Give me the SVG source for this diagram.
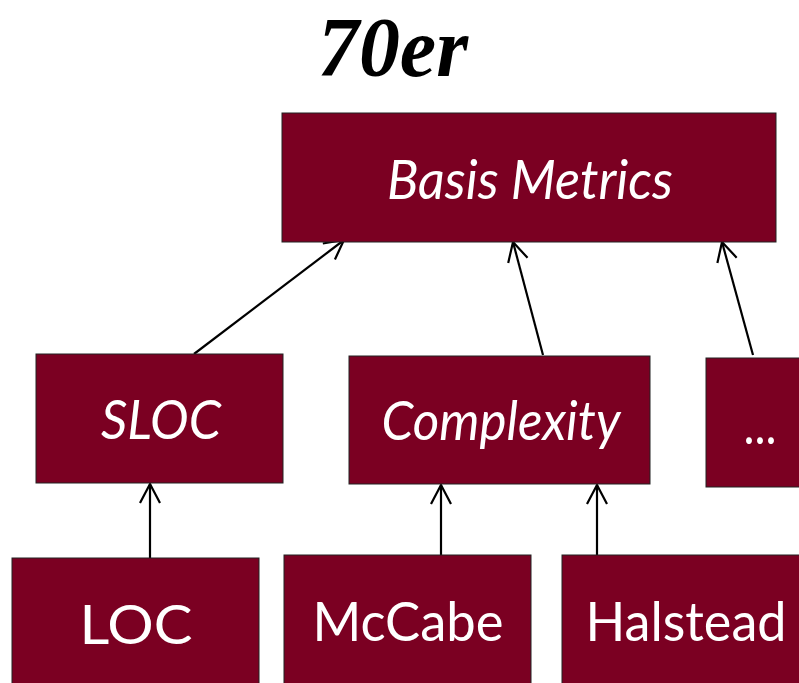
<svg xmlns="http://www.w3.org/2000/svg" width="799" height="683" viewBox="0 0 799 683">
<style>
.box{fill:#7B0022;stroke:#222;stroke-width:1}
.lbl{fill:#fff;font-family:Lato,"Open Sans","DejaVu Sans",sans-serif;text-anchor:middle}
.it{font-style:italic}
.con{stroke:#000;stroke-width:2.2;fill:none;marker-end:url(#ah)}
</style>
<defs>
<marker id="ah" markerUnits="userSpaceOnUse" viewBox="-22 -12 24 24" refX="0" refY="0" markerWidth="24" markerHeight="24" orient="auto">
<path d="M-19,-10 L0,0 L-19,10" fill="none" stroke="#000" stroke-width="2.2"/>
</marker>
</defs>
<text x="393" y="76" font-family="'Liberation Serif','DejaVu Serif',serif" font-weight="bold" font-style="italic" font-size="84" text-anchor="middle" textLength="150" lengthAdjust="spacingAndGlyphs" fill="#000">70er</text>
<g id="connectors">
<line class="con" x1="194" y1="354" x2="344" y2="240"/>
<line class="con" x1="543" y1="355" x2="513" y2="242"/>
<line class="con" x1="753" y1="355" x2="722" y2="242"/>
<line class="con" x1="150" y1="558" x2="150" y2="484"/>
<line class="con" x1="441" y1="555" x2="441" y2="485"/>
<line class="con" x1="597" y1="555" x2="597" y2="485"/>
</g>
<g id="basis">
<rect class="box" x="282" y="113" width="494" height="129"/>
<text class="lbl it" x="530" y="199" font-size="54" textLength="286" lengthAdjust="spacingAndGlyphs">Basis Metrics</text>
</g>
<g id="sloc">
<rect class="box" x="36" y="354" width="247" height="129"/>
<text class="lbl it" x="161" y="439" font-size="54" textLength="120" lengthAdjust="spacingAndGlyphs">SLOC</text>
</g>
<g id="complexity">
<rect class="box" x="349" y="356" width="301" height="128"/>
<text class="lbl it" x="501" y="440" font-size="54" textLength="239" lengthAdjust="spacingAndGlyphs">Complexity</text>
</g>
<g id="more">
<rect class="box" x="706" y="358" width="110" height="129"/>
<text class="lbl" x="760" y="444" font-size="54" textLength="33" lengthAdjust="spacingAndGlyphs">...</text>
</g>
<g id="loc">
<rect class="box" x="12" y="558" width="247" height="140"/>
<text class="lbl" x="136" y="644" font-size="55" textLength="113" lengthAdjust="spacingAndGlyphs">LOC</text>
</g>
<g id="mccabe">
<rect class="box" x="284" y="555" width="247" height="140"/>
<text class="lbl" x="408" y="641" font-size="55" textLength="191" lengthAdjust="spacingAndGlyphs">McCabe</text>
</g>
<g id="halstead">
<rect class="box" x="562" y="555" width="260" height="140"/>
<text class="lbl" x="686" y="641" font-size="55" textLength="201" lengthAdjust="spacingAndGlyphs">Halstead</text>
</g>
</svg>
